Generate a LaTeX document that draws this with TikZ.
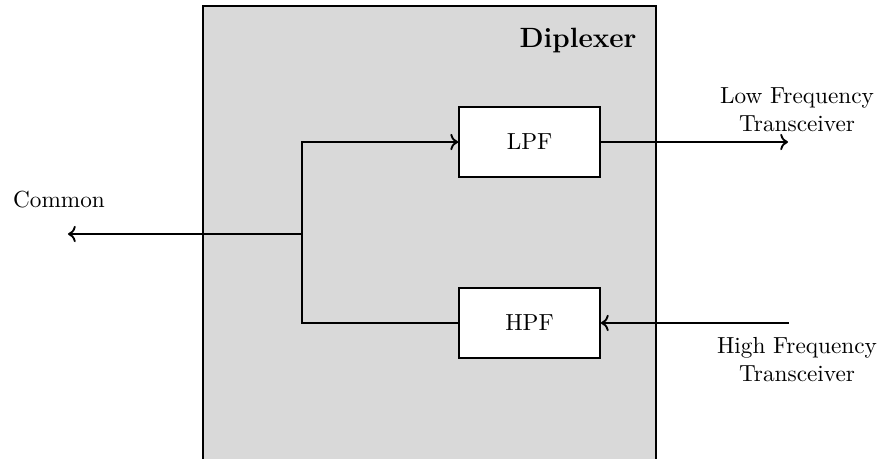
\documentclass[tikz,border=0pt]{standalone}
\usepackage{xcolor}
\definecolor{dGray}{HTML}{D9D9D9}
\usepackage{tikz}
\usetikzlibrary{arrows.meta, positioning, calc}

\tikzset{
  filt/.style={draw, thick, fill=white, minimum width=2.13cm, minimum height=1.06cm},
  sig/.style={thick},
  port/.style={align=center, inner sep=1pt}
}

\begin{document}
\begin{tikzpicture}
% page frame, the enclosure runs off the bottom edge
\clip (-4.566,-3.387) rectangle (8.724,3.538);

% diplexer enclosure
\node[draw, thick, fill=dGray, minimum width=6.849cm, minimum height=7.5cm,
      anchor=north west, inner sep=0pt] (dip) at (-1.512,3.462) {};
\node[font=\large\bfseries, anchor=base east, inner sep=0pt] (diptitle) at (5.065,2.827) {Diplexer};

% filters
\node[filt] (lpf) at (3.44,1.391) {LPF};
\node[filt] (hpf) at (3.44,-1.345) {HPF};

% ports and split point
\coordinate (split) at (0,0);
\coordinate (common) at (-3.538,0);
\coordinate (lowport) at (7.348,1.391);
\coordinate (highport) at (7.363,-1.345);

\node[port] (commonlbl) at (-3.674,0.52) {Common};
\node[port] (lowlbl) at (7.484,1.875) {Low Frequency\\Transceiver};
\node[port] (highlbl) at (7.484,-1.905) {High Frequency\\Transceiver};

% signal paths
\draw[sig, ->] (split) -- (common);
\draw[sig, ->] (split) |- (lpf.west);
\draw[sig] (hpf.west) -| (split);
\draw[sig, ->] (lpf.east) -- (lowport);
\draw[sig, ->] (highport) -- (hpf.east);
\end{tikzpicture}
\end{document}
